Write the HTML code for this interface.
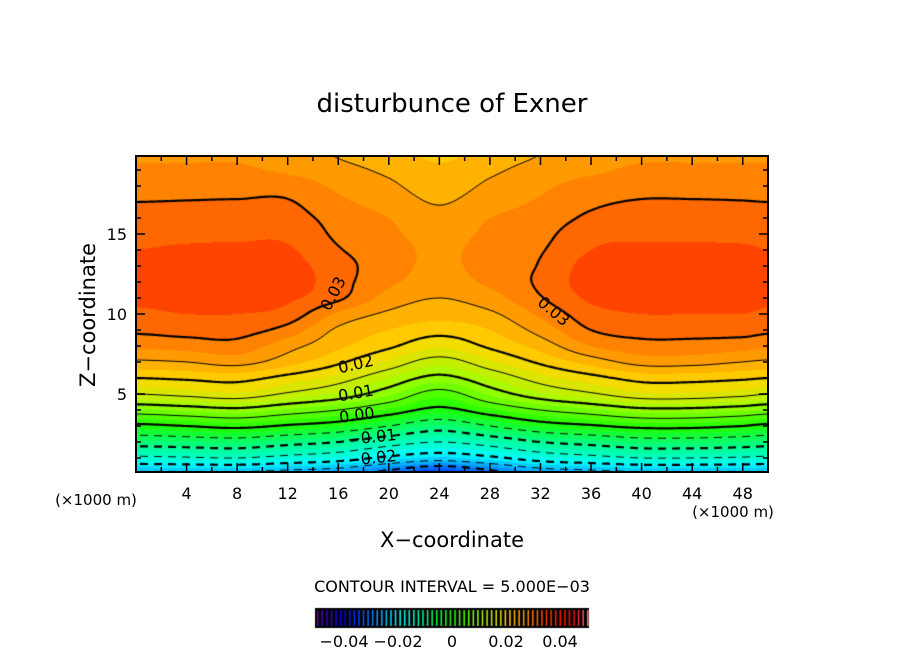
<!DOCTYPE html>
<html><head><meta charset="utf-8">
<style>
body{margin:0;background:#fff;width:904px;height:654px;overflow:hidden;font-family:"DejaVu Sans","Liberation Sans",sans-serif;}
#wrap{position:relative;width:904px;height:654px;}
canvas{position:absolute;left:0;top:0;}
svg{position:absolute;left:0;top:0;}
</style></head>
<body>
<div id="wrap">
<canvas id="cv" width="904" height="654"></canvas>
<svg id="sv" width="904" height="654"></svg>
</div>
<script>
// data: x columns (km) and z rows (km) of Exner disturbance
const xs = [0,4,8,12,16,20,24,28,32,36,40,44,48,50];
const zs = [0,1,2,3,4,5,6,7,8,9,10,11,12,13,14,15,16,17,18,19,20];
const c0  = [-0.026,-0.016,-0.008,-0.001,0.007,0.015,0.020,0.0245,0.028,0.0305,0.032,0.033,0.0335,0.033,0.0325,0.032,0.031,0.030,0.029,0.028,0.027];
const c4  = [-0.026,-0.0155,-0.0075,0.0,0.008,0.016,0.0205,0.025,0.0285,0.031,0.0325,0.0335,0.034,0.0335,0.0328,0.032,0.031,0.0301,0.029,0.028,0.027];
const c8  = [-0.026,-0.015,-0.007,0.001,0.009,0.017,0.021,0.026,0.029,0.031,0.0325,0.034,0.0345,0.034,0.033,0.032,0.031,0.0302,0.029,0.028,0.027];
const c12 = [-0.027,-0.0165,-0.0085,-0.0005,0.007,0.0145,0.019,0.0235,0.026,0.029,0.0315,0.033,0.034,0.0335,0.0328,0.032,0.031,0.0302,0.029,0.027,0.026];
const c16 = [-0.028,-0.018,-0.010,-0.002,0.005,0.012,0.0165,0.0205,0.023,0.0245,0.027,0.0305,0.031,0.031,0.0302,0.0295,0.029,0.028,0.027,0.0258,0.0248];
const c20 = [-0.032,-0.021,-0.013,-0.005,0.002,0.008,0.0125,0.017,0.0205,0.0225,0.0245,0.0265,0.028,0.0285,0.0285,0.028,0.0275,0.0265,0.0255,0.0245,0.0235];
const c24 = [-0.036,-0.023,-0.015,-0.008,-0.001,0.0035,0.009,0.0135,0.018,0.021,0.0235,0.025,0.0265,0.027,0.027,0.0265,0.0258,0.0248,0.0238,0.023,0.022];
const c28 = [-0.032,-0.021,-0.013,-0.005,0.002,0.008,0.0125,0.017,0.0205,0.0225,0.0245,0.0265,0.028,0.0285,0.0285,0.028,0.0275,0.0265,0.0255,0.0245,0.0235];
const c32 = [-0.028,-0.018,-0.010,-0.002,0.005,0.012,0.0165,0.0205,0.0235,0.026,0.028,0.0298,0.0305,0.0302,0.0298,0.0292,0.0285,0.0278,0.027,0.026,0.025];
const c36 = [-0.027,-0.0165,-0.0085,-0.0005,0.007,0.0145,0.019,0.0235,0.0275,0.030,0.0315,0.033,0.0338,0.0335,0.0325,0.0318,0.0305,0.0295,0.0285,0.027,0.026];
const c40 = [-0.026,-0.015,-0.007,0.001,0.009,0.017,0.021,0.026,0.029,0.031,0.0325,0.034,0.0345,0.034,0.033,0.032,0.031,0.0302,0.029,0.028,0.027];
const c44 = [-0.026,-0.015,-0.007,0.001,0.009,0.017,0.021,0.026,0.029,0.031,0.0325,0.034,0.0348,0.034,0.033,0.032,0.031,0.0302,0.029,0.028,0.027];
const c48 = [-0.026,-0.0155,-0.0075,0.0,0.008,0.016,0.0205,0.025,0.0285,0.031,0.0325,0.0335,0.034,0.0335,0.0328,0.032,0.031,0.0301,0.029,0.028,0.027];
const c50 = [-0.026,-0.016,-0.008,-0.001,0.007,0.015,0.020,0.0245,0.028,0.0305,0.032,0.033,0.0335,0.033,0.0325,0.032,0.031,0.030,0.029,0.028,0.027];
const cols = [c0,c4,c8,c12,c16,c20,c24,c28,c32,c36,c40,c44,c48,c50];
const xTicks = [4,8,12,16,20,24,28,32,36,40,44,48];
const zTicks = [5,10,15];
const cbTicks = [-0.04,-0.02,0,0.02,0.04];
const cbLabels = ["\u22120.04","\u22120.02","0","0.02","0.04"];
const levels = [];
for(let k=-8;k<=8;k++) levels.push(k*0.005);

// axes
const X0=136,X1=768,Y0=156,Y1=472;
const sx = x => X0 + x/50*(X1-X0);
const sz = z => 474 - z*16;
const ix = px => (px-X0)/(X1-X0)*50;
const iz = py => (474-py)/16;

function colAt(c,z){
  z=Math.max(0,Math.min(20,z));
  const j=Math.min(19,Math.floor(z)), t=z-j;
  const p0=c[Math.max(0,j-1)],p1=c[j],p2=c[j+1],p3=c[Math.min(20,j+2)];
  return p1+0.5*t*(p2-p0+t*(2*p0-5*p1+4*p2-p3+t*(3*(p1-p2)+p3-p0)));
}
function field(x,z){
  x=Math.max(0,Math.min(50,x));
  let i=0; while(i<xs.length-2 && x>xs[i+1]) i++;
  const h=xs[i+1]-xs[i], t=(x-xs[i])/h;
  const v1=colAt(cols[i],z), v2=colAt(cols[i+1],z);
  const v0=i>0?colAt(cols[i-1],z):v1, v3=i+2<cols.length?colAt(cols[i+2],z):v2;
  const m1=(v2-v0)/2, m2=(v3-v1)/2;
  const t2=t*t,t3=t2*t;
  return (2*t3-3*t2+1)*v1+(t3-2*t2+t)*m1+(-2*t3+3*t2)*v2+(t3-t2)*m2;
}
const stops=[[-0.05,[96,0,160]],[-0.04,[0,0,255]],[-0.03,[0,128,255]],[-0.02,[0,255,255]],[-0.01,[0,255,144]],[0,[32,255,0]],[0.01,[160,255,0]],[0.02,[255,215,0]],[0.025,[255,165,0]],[0.03,[255,120,0]],[0.035,[255,50,0]],[0.045,[255,0,0]],[0.05,[255,128,128]]];
function cmap(v){
  if(v<=stops[0][0]) return stops[0][1];
  for(let k=0;k<stops.length-1;k++){
    if(v<=stops[k+1][0]){const t=(v-stops[k][0])/(stops[k+1][0]-stops[k][0]);
      return stops[k][1].map((c,n)=>Math.round(c+(stops[k+1][1][n]-c)*t));}
  }
  return stops[stops.length-1][1];
}
const cv=document.getElementById('cv'), ctx=cv.getContext('2d');
const W=X1-X0, H=Y1-Y0;
const img=ctx.createImageData(W,H);
for(let py=0;py<H;py++)for(let px=0;px<W;px++){
  let v=field(ix(X0+px+0.5),iz(Y0+py+0.5));
  v=Math.floor(v/0.0025)*0.0025+0.00125;
  const c=cmap(v), o=(py*W+px)*4;
  img.data[o]=c[0];img.data[o+1]=c[1];img.data[o+2]=c[2];img.data[o+3]=255;
}
ctx.putImageData(img,X0,Y0);

// contours via marching squares
const st=2, nx=Math.ceil(W/st), ny=Math.ceil(H/st);
const g=[];
for(let j=0;j<=ny;j++){g.push([]);for(let i=0;i<=nx;i++)g[j].push(field(ix(X0+i*st),iz(Y0+j*st)));}
ctx.save();ctx.beginPath();ctx.rect(X0,Y0,W,H);ctx.clip();
ctx.strokeStyle='#000';
levels.forEach(L=>{
  const thick=Math.abs(Math.round(L/0.005))%2===0;
  ctx.lineWidth=thick?2.2:1;
  ctx.beginPath();
  for(let j=0;j<ny;j++)for(let i=0;i<nx;i++){
    const v=[g[j][i],g[j][i+1],g[j+1][i+1],g[j+1][i]];
    const p=[[0,0],[1,0],[1,1],[0,1]];
    const pts=[];
    for(let e=0;e<4;e++){const a=v[e],b=v[(e+1)%4];
      if((a<L)!==(b<L)){const t=(L-a)/(b-a);const pa=p[e],pb=p[(e+1)%4];
        pts.push([X0+(i+pa[0]+(pb[0]-pa[0])*t)*st,Y0+(j+pa[1]+(pb[1]-pa[1])*t)*st]);}}
    if(L<-1e-9 && Math.floor((X0+i*st)/7)%2===1) continue;
    for(let q=0;q+1<pts.length;q+=2){ctx.moveTo(pts[q][0],pts[q][1]);ctx.lineTo(pts[q+1][0],pts[q+1][1]);}
  }
  ctx.stroke();
});
ctx.restore();

// colorbar
const CB0=317,CB1=587;
ctx.fillStyle='#000';ctx.fillRect(315,608,274,20);
const nLines=60;
for(let k=0;k<nLines;k++){
  const v=-0.05+k*(0.1/(nLines-1));
  const c=cmap(v);
  ctx.fillStyle=`rgb(${c[0]},${c[1]},${c[2]})`;
  ctx.fillRect(CB0+k*(CB1-CB0)/(nLines-1),610,1.5,16);
}
const cbx=v=>CB0+(v+0.05)/0.1*(CB1-CB0);

// SVG overlay
const NS='http://www.w3.org/2000/svg', sv=document.getElementById('sv');
function mk(tag,attrs,txt){const e=document.createElementNS(NS,tag);for(const k in attrs)e.setAttribute(k,attrs[k]);if(txt!==undefined)e.textContent=txt;sv.appendChild(e);return e;}
let e;
e=mk('rect',{x:X0,y:Y0,width:W,height:H,fill:'none',stroke:'#000','stroke-width':2});


for(let x=2;x<50;x+=2){
  const len=(x%4===0)?9:5;
  e=mk('path',{d:`M${sx(x)},${Y1}v${-len}M${sx(x)},${Y0}v${len}`,stroke:'#000','stroke-width':1.5});
  
  
}
for(let z=1;z<20;z++){
  const len=(z%5===0)?9:5;
  e=mk('path',{d:`M${X0},${sz(z)}h${len}M${X1},${sz(z)}h${-len}`,stroke:'#000','stroke-width':1.5});
  
  
}
xTicks.forEach(t=>{
  e=mk('text',{x:sx(t),y:499,'text-anchor':'middle','font-size':16},String(t));
  
  
});
zTicks.forEach(t=>{
  e=mk('text',{x:127,y:sz(t)+6,'text-anchor':'end','font-size':16},String(t));
  
  
});
e=mk('text',{x:452,y:112,'text-anchor':'middle','font-size':26},'disturbunce of Exner');


e=mk('text',{x:452,y:547,'text-anchor':'middle','font-size':21},'X\u2212coordinate');


e=mk('text',{x:95,y:315,'text-anchor':'middle','font-size':21,transform:'rotate(-90 95 315)'},'Z\u2212coordinate');


e=mk('text',{x:96,y:505,'text-anchor':'middle','font-size':15},'(\u00d71000 m)');


e=mk('text',{x:733,y:517,'text-anchor':'middle','font-size':15},'(\u00d71000 m)');


e=mk('text',{x:452,y:592,'text-anchor':'middle','font-size':16},'CONTOUR INTERVAL = 5.000E\u221203');


cbTicks.forEach((t,k)=>{
  e=mk('text',{x:cbx(t),y:647,'text-anchor':'middle','font-size':16},cbLabels[k]);
  
  
});
const clabels=[["0.03",334,294,-62],["0.03",553,312,40],["0.02",356,365,-13],["0.01",356,394,-10],["0.00",357,416,-8],["\u22120.01",372,438,-6],["\u22120.02",372,459,-6]];
clabels.forEach(c=>{
  e=mk('text',{x:c[1],y:c[2],'text-anchor':'middle','dominant-baseline':'middle','font-size':16,transform:`rotate(${c[3]} ${c[1]} ${c[2]})`},c[0]);
  
  
});
</script>
</body></html>
